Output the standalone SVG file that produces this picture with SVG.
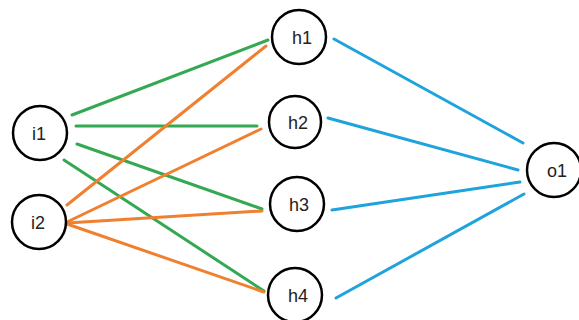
<svg xmlns="http://www.w3.org/2000/svg" width="579" height="320" viewBox="0 0 579 320">
<style>
.node circle{fill:#fff;stroke:#000;stroke-width:2.5}
.node text{font-family:"Liberation Sans",Arial,sans-serif;font-size:18px;fill:#222;text-anchor:middle;dominant-baseline:central}
.g{stroke:#35a853;stroke-width:3;stroke-linecap:round}
.o{stroke:#f08030;stroke-width:3;stroke-linecap:round}
.b{stroke:#1ea3dc;stroke-width:3;stroke-linecap:round}
</style>
<rect width="579" height="320" fill="#fff"/>
<g id="connectors">
<line class="g" x1="72" y1="115" x2="268" y2="40"/>
<line class="g" x1="76" y1="126" x2="257" y2="126"/>
<line class="g" x1="77" y1="144" x2="262" y2="209"/>
<line class="g" x1="64" y1="160" x2="264" y2="291"/>
<line class="o" x1="67" y1="205" x2="266" y2="46"/>
<line class="o" x1="67" y1="222" x2="261" y2="129"/>
<line class="o" x1="67" y1="223" x2="262" y2="211"/>
<line class="o" x1="67" y1="224" x2="264" y2="292"/>
<line class="b" x1="334" y1="39" x2="523" y2="143"/>
<line class="b" x1="328" y1="118" x2="518" y2="170"/>
<line class="b" x1="332" y1="210" x2="520" y2="182"/>
<line class="b" x1="336" y1="298" x2="524" y2="194"/>
</g>
<g id="i1" class="node"><circle cx="40" cy="133" r="27"/><text x="39" y="134">i1</text></g>
<g id="i2" class="node"><circle cx="39" cy="222" r="27"/><text x="38" y="223">i2</text></g>
<g id="h1" class="node"><circle cx="299" cy="37" r="27"/><text x="302" y="38">h1</text></g>
<g id="h2" class="node"><circle cx="295" cy="122" r="26"/><text x="298" y="123">h2</text></g>
<g id="h3" class="node"><circle cx="297" cy="204" r="27"/><text x="299" y="205">h3</text></g>
<g id="h4" class="node"><circle cx="295" cy="295" r="27"/><text x="298" y="296">h4</text></g>
<g id="o1" class="node"><circle cx="554" cy="170" r="27"/><text x="557" y="171">o1</text></g>
</svg>
